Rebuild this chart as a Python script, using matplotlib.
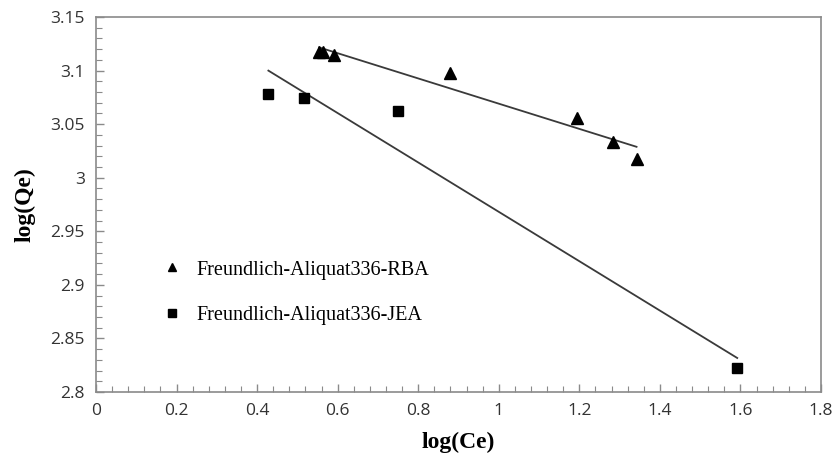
import numpy as np
import matplotlib
matplotlib.use("Agg")
import matplotlib.pyplot as plt
from matplotlib.ticker import MultipleLocator, FormatStrFormatter

# Freundlich-Aliquat336-RBA
rba_x = [0.554, 0.564, 0.591, 0.879, 1.193, 1.284, 1.342]
rba_y = [3.117, 3.117, 3.115, 3.098, 3.0555, 3.0336, 3.0175]

# Freundlich-Aliquat336-JEA
jea_x = [0.428, 0.517, 0.751, 1.592]
jea_y = [3.078, 3.0747, 3.062, 2.822]

labels = ["Freundlich-Aliquat336-RBA", "Freundlich-Aliquat336-JEA"]

fig = plt.figure(figsize=(8.35, 4.67), dpi=100)
ax = fig.add_axes([96 / 835, 1 - 392 / 467, 725 / 835, 375 / 467])

line_color = "#3a3a3a"
for xs, ys in [(rba_x, rba_y), (jea_x, jea_y)]:
    k, b = np.polyfit(xs, ys, 1)
    xx = np.array([min(xs), max(xs)])
    ax.plot(xx, k * xx + b, color=line_color, lw=1.3, zorder=2)

ax.plot(rba_x, rba_y, "^", color="black", ms=8, ls="none", label=labels[0], zorder=3)
ax.plot(jea_x, jea_y, "s", color="black", ms=6.5, ls="none", label=labels[1], zorder=3)

ax.set_xlim(0, 1.8)
ax.set_ylim(2.8, 3.15)
ax.xaxis.set_major_locator(MultipleLocator(0.2))
ax.xaxis.set_minor_locator(MultipleLocator(0.04))
ax.yaxis.set_major_locator(MultipleLocator(0.05))
ax.yaxis.set_minor_locator(MultipleLocator(0.01))
ax.xaxis.set_major_formatter(FormatStrFormatter("%g"))
ax.yaxis.set_major_formatter(FormatStrFormatter("%g"))

for s in ax.spines.values():
    s.set_color("#8a8a8a")
    s.set_linewidth(1.2)
ax.tick_params(which="both", direction="in", color="#8a8a8a",
               top=False, right=False)
ax.tick_params(which="major", length=6, width=1)
ax.tick_params(which="minor", length=4, width=0.8)
ax.tick_params(axis="both", which="major", labelsize=12.5, labelcolor="#333333", pad=8)
for t in ax.get_xticklabels() + ax.get_yticklabels():
    t.set_family("Open Sans")

ax.set_xlabel("log(Ce)", family="Liberation Serif", fontweight="bold", fontsize=17, labelpad=9)
ax.set_ylabel("log(Qe)", family="Liberation Serif", fontweight="bold", fontsize=17, labelpad=11)

leg = ax.legend(loc="center left", bbox_to_anchor=(0.063, 0.265), frameon=False,
                prop={"family": "Liberation Serif", "size": 14.5},
                handletextpad=0.6, labelspacing=1.3, markerscale=0.8,
                handlelength=1.2)

fig.savefig("out.png", dpi=100)
